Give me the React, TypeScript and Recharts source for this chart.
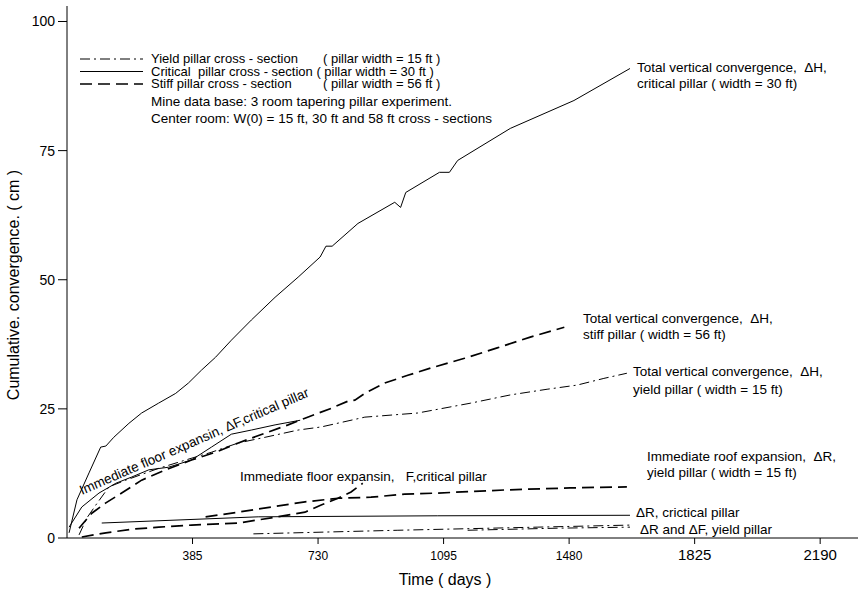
import { LineChart, Line, XAxis, YAxis } from "recharts";

// time in days, convergence in cm
const critTotal = [
  { d: 6, v: 1.0 }, { d: 29, v: 7.4 }, { d: 64, v: 12.6 }, { d: 98, v: 17.6 }, { d: 113, v: 17.8 },
  { d: 136, v: 19.5 }, { d: 180, v: 22.2 }, { d: 217, v: 24.2 }, { d: 266, v: 26.1 }, { d: 316, v: 28.0 },
  { d: 353, v: 30.0 }, { d: 391, v: 32.5 }, { d: 432, v: 35.0 }, { d: 478, v: 38.3 }, { d: 536, v: 42.2 },
  { d: 605, v: 46.6 }, { d: 672, v: 50.5 }, { d: 736, v: 54.4 }, { d: 753, v: 56.5 }, { d: 771, v: 56.5 },
  { d: 846, v: 60.9 }, { d: 953, v: 65.0 }, { d: 970, v: 64.0 }, { d: 985, v: 66.9 }, { d: 1083, v: 70.8 },
  { d: 1112, v: 70.8 }, { d: 1136, v: 73.1 }, { d: 1289, v: 79.3 }, { d: 1474, v: 84.7 }, { d: 1637, v: 90.9 },
];
const critFloor = [
  { d: 6, v: 2.1 }, { d: 43, v: 6.0 }, { d: 93, v: 8.7 }, { d: 142, v: 10.6 }, { d: 188, v: 11.8 },
  { d: 238, v: 13.2 }, { d: 295, v: 13.7 }, { d: 362, v: 15.1 }, { d: 420, v: 17.6 }, { d: 478, v: 20.1 },
  { d: 536, v: 20.9 }, { d: 605, v: 21.9 }, { d: 678, v: 22.8 },
];
const critRoof = [{ d: 101, v: 2.9 }, { d: 556, v: 4.1 }, { d: 1078, v: 4.3 }, { d: 1637, v: 4.4 }];
const critFloorLow = [
  { d: 43, v: 0.2 }, { d: 113, v: 1.0 }, { d: 188, v: 1.7 }, { d: 267, v: 2.1 }, { d: 362, v: 2.5 },
  { d: 498, v: 2.9 }, { d: 594, v: 3.9 }, { d: 692, v: 5.0 }, { d: 739, v: 6.4 }, { d: 788, v: 7.7 },
  { d: 826, v: 8.9 }, { d: 860, v: 10.6 },
];
const stiffTotal = [
  { d: 35, v: 1.9 }, { d: 72, v: 4.8 }, { d: 113, v: 6.8 }, { d: 159, v: 8.7 }, { d: 217, v: 11.2 },
  { d: 287, v: 13.2 }, { d: 362, v: 15.1 }, { d: 432, v: 16.6 }, { d: 498, v: 18.4 }, { d: 576, v: 20.3 },
  { d: 643, v: 21.9 }, { d: 692, v: 23.2 }, { d: 768, v: 25.1 }, { d: 817, v: 26.5 }, { d: 837, v: 26.7 },
  { d: 866, v: 28.0 }, { d: 924, v: 30.0 }, { d: 991, v: 31.5 }, { d: 1057, v: 32.9 }, { d: 1156, v: 34.8 },
  { d: 1251, v: 36.8 }, { d: 1347, v: 38.9 }, { d: 1446, v: 40.8 },
];
const yieldTotal = [
  { d: 35, v: 0.6 }, { d: 58, v: 3.9 }, { d: 84, v: 6.4 }, { d: 122, v: 9.9 }, { d: 171, v: 11.2 },
  { d: 267, v: 13.5 }, { d: 345, v: 15.1 }, { d: 420, v: 16.6 }, { d: 498, v: 18.4 }, { d: 576, v: 19.5 },
  { d: 672, v: 20.9 }, { d: 739, v: 21.5 }, { d: 866, v: 23.4 }, { d: 1020, v: 24.2 }, { d: 1173, v: 26.1 },
  { d: 1289, v: 27.7 }, { d: 1396, v: 28.8 }, { d: 1483, v: 29.6 }, { d: 1561, v: 30.9 }, { d: 1628, v: 31.9 },
];
const yieldRoofExp = [
  { d: 403, v: 4.1 }, { d: 498, v: 5.0 }, { d: 594, v: 6.0 }, { d: 692, v: 7.0 }, { d: 788, v: 7.7 },
  { d: 884, v: 7.9 }, { d: 982, v: 8.5 }, { d: 1078, v: 8.7 }, { d: 1272, v: 9.3 }, { d: 1463, v: 9.7 },
  { d: 1628, v: 9.9 },
];
const yieldRoof = [{ d: 542, v: 0.8 }, { d: 962, v: 1.5 }, { d: 1367, v: 2.1 }, { d: 1637, v: 2.5 }];
const yieldFloor = [{ d: 1165, v: 1.5 }, { d: 1425, v: 1.9 }, { d: 1637, v: 2.1 }];

const xTicks = [365, 730, 1095, 1460, 1825, 2190];
const xTickLabels = ["385", "730", "1095", "1480", "1825", "2190"];
const yTicks = [0, 25, 50, 75, 100];

const FONT = "'Liberation Sans', Arial, sans-serif";
const SOLID = { stroke: "#000", strokeWidth: 1 };
const DASHED = { stroke: "#000", strokeWidth: 1.7, strokeDasharray: "12 6" };
const DASHDOT = { stroke: "#000", strokeWidth: 1, strokeDasharray: "10 4 2 4" };
const NB = "\u00A0";

function XTick({ x, y, payload, index }: any) {
  const big = index >= 4;
  return (
    <text
      x={x}
      y={y + 14}
      textAnchor="middle"
      fontFamily={big ? FONT : "'Liberation Sans Narrow', 'Arial Narrow', " + FONT}
      fontSize={big ? 15 : 12}
      fill="#000"
    >
      {xTickLabels[xTicks.indexOf(payload.value)]}
    </text>
  );
}

function Overlay() {
  const t = { fontFamily: FONT, fontSize: 13.5, fill: "#000" };
  const lg = { fontFamily: FONT, fontSize: 13, fill: "#000" };
  return (
    <svg width={860} height={597} style={{ position: "absolute", left: 0, top: 0, pointerEvents: "none" }}>
      <line x1={80} x2={143} y1={59} y2={59} {...DASHDOT} />
      <line x1={80} x2={143} y1={71.5} y2={71.5} {...SOLID} />
      <line x1={80} x2={143} y1={84} y2={84} {...DASHED} />
      <text x={151} y={63} {...lg}>Yield pillar cross - section</text>
      <text x={323} y={63} {...lg}>( pillar width = 15 ft )</text>
      <text x={151} y={75.5} {...lg}>{`Critical${NB} pillar cross - section ( pillar width = 30 ft )`}</text>
      <text x={151} y={88} {...lg}>Stiff pillar cross - section</text>
      <text x={323} y={88} {...lg}>( pillar width = 56 ft )</text>
      <text x={151} y={106} {...t}>Mine data base: 3 room tapering pillar experiment.</text>
      <text x={151} y={123} {...t}>Center room: W(0) = 15 ft, 30 ft and 58 ft cross - sections</text>

      <text x={637} y={72} {...t}>{`Total vertical convergence,${NB} ΔH,`}</text>
      <text x={637} y={88} {...t}>critical pillar ( width = 30 ft)</text>
      <text x={583} y={323} {...t}>{`Total vertical convergence,${NB} ΔH,`}</text>
      <text x={583} y={339} {...t}>stiff pillar ( width = 56 ft)</text>
      <text x={633} y={376} {...t}>{`Total vertical convergence,${NB} ΔH,`}</text>
      <text x={633} y={394} {...t}>yield pillar ( width = 15 ft)</text>
      <text x={647} y={461} {...t}>{`Immediate roof expansion,${NB} ΔR,`}</text>
      <text x={647} y={477} {...t}>yield pillar ( width = 15 ft)</text>
      <text x={636} y={517} {...t}>ΔR, crictical pillar</text>
      <text x={640} y={534} {...t}>ΔR and ΔF, yield pillar</text>
      <text x={240} y={481} {...t}>{`Immediate floor expansin,${NB}${NB} F,critical pillar`}</text>
      <text transform="translate(82,495) rotate(-23.5)" {...t} fontSize={13.5}>
        Immediate floor expansin, ΔF,critical pillar
      </text>

      <text transform="translate(19,285) rotate(-90)" textAnchor="middle" fontFamily={FONT} fontSize={16} fill="#000">
        Cumulative. convergence. ( cm )
      </text>
      <text x={445} y={585} textAnchor="middle" fontFamily={FONT} fontSize={16} fill="#000">
        Time ( days )
      </text>
    </svg>
  );
}

export default function App() {
  return (
    <div style={{ position: "absolute", left: 0, top: 0, width: 860, height: 597, background: "#fff" }}>
      <LineChart width={860} height={597} margin={{ top: 6, right: 2, left: 7, bottom: 0 }}>
        <XAxis
          type="number"
          dataKey="d"
          domain={[0, 2300]}
          ticks={xTicks}
          tick={<XTick />}
          tickSize={6}
          height={59}
          axisLine={{ stroke: "#000" }}
          tickLine={{ stroke: "#000" }}
          allowDataOverflow
        />
        <YAxis
          type="number"
          dataKey="v"
          domain={[0, 103]}
          ticks={yTicks}
          width={60}
          tickSize={9}
          tickMargin={3}
          axisLine={{ stroke: "#000" }}
          tickLine={{ stroke: "#000" }}
          tick={{ fill: "#000", fontSize: 14, fontFamily: FONT }}
          allowDataOverflow
        />
        <Line data={critTotal} dataKey="v" type="linear" dot={false} isAnimationActive={false} {...SOLID} />
        <Line data={critFloor} dataKey="v" type="linear" dot={false} isAnimationActive={false} {...SOLID} />
        <Line data={critRoof} dataKey="v" type="linear" dot={false} isAnimationActive={false} {...SOLID} />
        <Line data={critFloorLow} dataKey="v" type="linear" dot={false} isAnimationActive={false} {...DASHED} />
        <Line data={stiffTotal} dataKey="v" type="linear" dot={false} isAnimationActive={false} {...DASHED} />
        <Line data={yieldRoofExp} dataKey="v" type="linear" dot={false} isAnimationActive={false} {...DASHED} />
        <Line data={yieldTotal} dataKey="v" type="linear" dot={false} isAnimationActive={false} {...DASHDOT} />
        <Line data={yieldRoof} dataKey="v" type="linear" dot={false} isAnimationActive={false} {...DASHDOT} />
        <Line data={yieldFloor} dataKey="v" type="linear" dot={false} isAnimationActive={false} {...DASHDOT} />
      </LineChart>
      <Overlay />
    </div>
  );
}
